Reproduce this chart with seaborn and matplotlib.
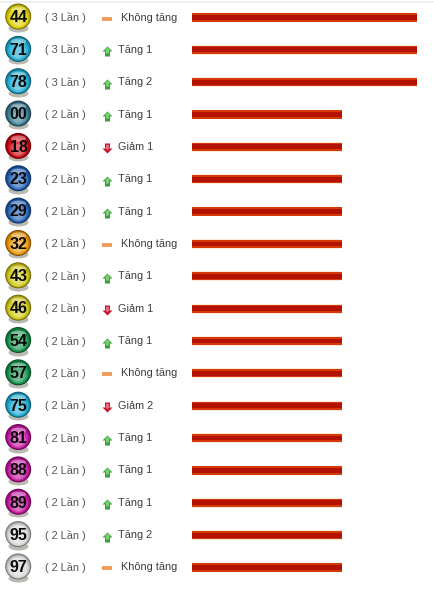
import numpy as np
import pandas as pd
import matplotlib
matplotlib.use("Agg")
import matplotlib.pyplot as plt
import seaborn as sns
from matplotlib.colors import to_rgb
from matplotlib.path import Path
from matplotlib.transforms import Affine2D

numbers = ["44","71","78","00","18","23","29","32","43","46","54","57","75","81","88","89","95","97"]
counts = [3,3,3,2,2,2,2,2,2,2,2,2,2,2,2,2,2,2]
trend = ["Không tăng","Tăng 1","Tăng 2","Tăng 1","Giảm 1","Tăng 1","Tăng 1","Không tăng","Tăng 1",
         "Giảm 1","Tăng 1","Không tăng","Giảm 2","Tăng 1","Tăng 1","Tăng 1","Tăng 2","Không tăng"]
ball_colors = ["#e0d000","#18a8d0","#18a8d0","#347890","#cc0010","#1c5cb0","#1c5cb0","#ec9400","#d0c810",
               "#d0c810","#109048","#109048","#18a8d0","#c4109c","#c4109c","#c4109c","#d8d8d8","#d8d8d8"]

W, H = 435, 589
X0, PX_PER = 192.0, 75.0
Y0, ROW = 17.5, 32.35
sns.set_theme(style="white")
plt.rcParams["font.family"] = ["Liberation Sans", "DejaVu Sans"]

fig = plt.figure(figsize=(W/100, H/100), dpi=100, facecolor="white")
ax = fig.add_axes([0, 0, 1, 1])
df = pd.DataFrame({"row": range(len(numbers)), "count": counts, "number": numbers,
                   "trend": trend, "ball": ball_colors})

def px(x):
    return (x - X0) / PX_PER

# bars: faint halo, body, dark core
for width, col in [(0.30, "#fbeadb"), (0.255, "#d43a08"), (0.15, "#b41200")]:
    sns.barplot(data=df, y="row", x="count", orient="h", order=list(range(len(numbers))),
                color=col, saturation=1, width=width, ax=ax, linewidth=0, zorder=2)

ax.set_xlim(px(0), px(W))
ax.set_ylim((H - Y0) / ROW, -Y0 / ROW)
ax.axis("off")

# top rule
ax.axhline((1.5 - Y0) / ROW, color="#ececec", lw=1.2, zorder=1)

def mix(a, b, t):
    a, b = np.array(to_rgb(a)), np.array(to_rgb(b))
    return tuple(a + (b - a) * t)

rows = df["row"].to_numpy(float)
bx = np.full(len(rows), px(18.2))
ellipse = Path.unit_circle().transformed(Affine2D().scale(1.0, 0.4))
# soft shadow under each ball
sns.scatterplot(x=bx, y=rows + 10.5 / ROW, s=(20 * .72) ** 2, color="#8c8c80", marker=ellipse,
                linewidth=0, alpha=0.6, ax=ax, zorder=3, legend=False)
# ball: concentric layers, dark rim to light lower body
layers = [(26, .50, 0, -1), (24.5, .28, 0, -1), (23, .12, 0, -.6),
          (20, 0, .10, .3), (16, 0, .26, 1.4), (11, 0, .40, 2.6)]
for k, (d, t_dark, t_light, dy) in enumerate(layers):
    cols = [mix(mix(c, "#000000", t_dark), "#ffffff", t_light) for c in ball_colors]
    ax.scatter(bx, rows + dy / ROW, s=(d * 0.72) ** 2, c=cols, linewidths=0, zorder=4 + k * 0.01)
# top highlight
ax.scatter(bx, rows - 8.5 / ROW, s=(15 * .72) ** 2, c="white", alpha=.40, linewidths=0,
           marker=ellipse, zorder=4.5)

for _, r in df.iterrows():
    y = r["row"]
    ax.text(px(18.5), y + 0.3 / ROW, r["number"], ha="center", va="center", fontsize=11.5,
            fontweight="bold", color="#0a0a0a", zorder=6)
    ax.text(px(65), y, f"( {r['count']} Lần )", ha="center", va="center", fontsize=7.9,
            color="#555555", zorder=6)
    kind = r["trend"]
    flat_row = kind.startswith("Không")
    ax.text(px(121 if flat_row else 118), y, kind, ha="left", va="center", fontsize=7.8,
            color="#3c3c3c", zorder=6)

# trend icons: block arrows
up_arrow = Path([(0, 1), (1, 0), (.5, 0), (.5, -1), (-.5, -1), (-.5, 0), (-1, 0), (0, 1)], closed=True)
down_arrow = Path([(0, -1), (1, 0), (.5, 0), (.5, 1), (-.5, 1), (-.5, 0), (-1, 0), (0, -1)], closed=True)
flat = df["trend"].str.startswith("Không").to_numpy()
up = df["trend"].str.startswith("Tăng").to_numpy()
down = df["trend"].str.startswith("Giảm").to_numpy()
ix = px(107.5)
ax.scatter(np.full(flat.sum(), ix), rows[flat] + 1 / ROW, marker="_", s=60, c="#f09c58",
           linewidths=2.8, zorder=6)
ax.scatter(np.full(up.sum(), ix), rows[up] + 1.5 / ROW, marker=up_arrow, s=52, c="#38a038",
           linewidths=0, zorder=6)
ax.scatter(np.full(up.sum(), ix), rows[up] + .5 / ROW, marker=up_arrow, s=20, c="#78d070",
           linewidths=0, zorder=6.1)
ax.scatter(np.full(down.sum(), ix), rows[down] + 1 / ROW, marker=down_arrow, s=52, c="#c8142e",
           linewidths=0, zorder=6)
ax.scatter(np.full(down.sum(), ix), rows[down] + 0 / ROW, marker=down_arrow, s=16, c="#ee7080",
           linewidths=0, zorder=6.1)

fig.savefig("out.png", dpi=100, facecolor="white")
